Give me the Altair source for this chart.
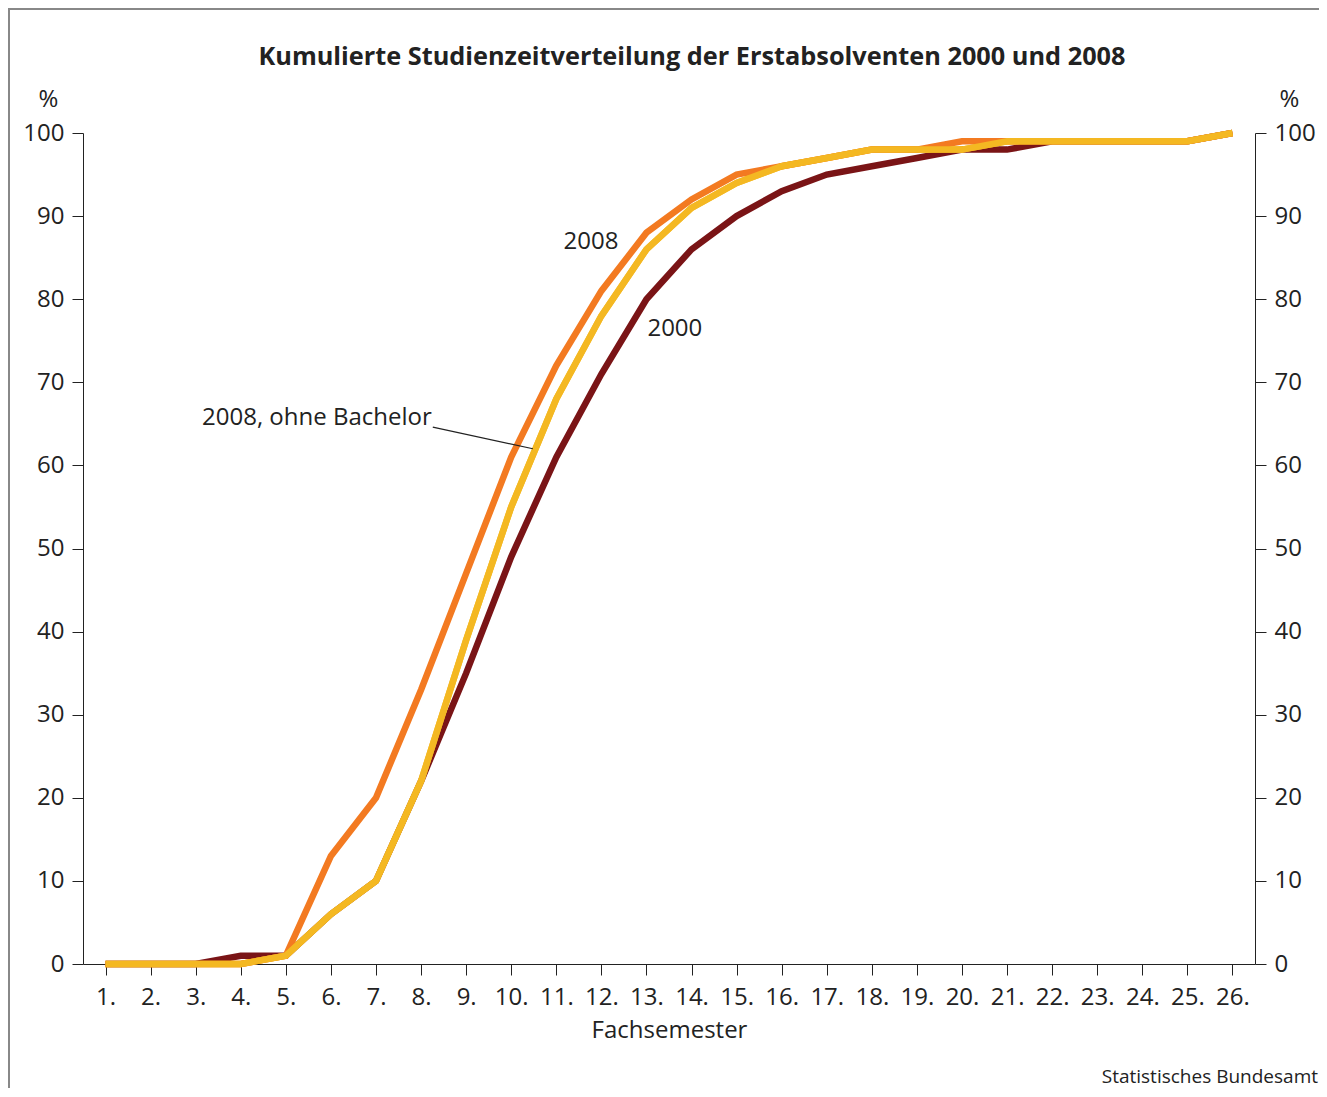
import altair as alt
import pandas as pd

semester = list(range(1, 27))
s2000 = [0, 0, 0, 1, 1, 6, 10, 22, 35, 49, 61, 71, 80, 86, 90, 93, 95, 96, 97, 98, 98, 99, 99, 99, 99, 100]
s2008 = [0, 0, 0, 0, 1, 13, 20, 33, 47, 61, 72, 81, 88, 92, 95, 96, 97, 98, 98, 99, 99, 99, 99, 99, 99, 100]
s2008_ob = [0, 0, 0, 0, 1, 6, 10, 22, 39, 55, 68, 78, 86, 91, 94, 96, 97, 98, 98, 98, 99, 99, 99, 99, 99, 100]

title_text = "Kumulierte Studienzeitverteilung der Erstabsolventen 2000 und 2008"
source_text = "Statistisches Bundesamt"
label_texts = ["2008", "2000", "2008, ohne Bachelor"]
label_x = [11.77, 13.63, 3.14]
label_y = [86.9, 76.4, 65.7]
label_align = ["center", "center", "left"]
leader = {"x": [8.26], "y": [64.6], "x2": [10.48], "y2": [62.0]}

FONT = "Open Sans"
W, H = 1172, 831

xscale = alt.Scale(domain=[0.5, 26.5], nice=False, zero=False)
yscale = alt.Scale(domain=[0, 100], nice=False)

x_axis = alt.Axis(values=semester, labelExpr="datum.value + '.'", title="Fachsemester",
                  grid=False, tickSize=11, tickColor="#222", domainColor="#222",
                  labelFontSize=24, labelFont=FONT, labelColor="#222", labelPadding=10,
                  titleFontSize=24, titleFont=FONT, titleFontWeight="normal", titleColor="#222",
                  titlePadding=9, labelFlush=False)

def X(field):
    return alt.X(field, scale=xscale, axis=x_axis)

def y_axis(orient):
    return alt.Axis(orient=orient, values=list(range(0, 101, 10)), grid=False, tickSize=11,
                    tickColor="#222", domainColor="#222", labelFontSize=24, labelFont=FONT,
                    labelColor="#222", labelPadding=8, title="%", titleAngle=0,
                    titleFontSize=24, titleFont=FONT, titleFontWeight="normal", titleColor="#222",
                    titleAlign="center", titleBaseline="middle",
                    titleX=-35 if orient == "left" else 34, titleY=-34)

def series_layer(vals, color, axis):
    df = pd.DataFrame({"Fachsemester": semester, "Anteil": vals})
    return alt.Chart(df).mark_line(color=color, strokeWidth=6.5, strokeJoin="miter", clip=False).encode(
        x=X("Fachsemester:Q"),
        y=alt.Y("Anteil:Q", scale=yscale, axis=axis),
    )

l2000 = series_layer(s2000, "#7A1416", y_axis("left"))
l2008 = series_layer(s2008, "#F37A21", None)
lob_axis = series_layer(s2008_ob, "#F4B822", y_axis("right"))
lob = series_layer(s2008_ob, "#F4B822", None)

lab_df = pd.DataFrame({"t": label_texts, "x": label_x, "y": label_y, "a": label_align})
labels_c = alt.Chart(lab_df[lab_df.a == "center"]).mark_text(
    font=FONT, fontSize=24, color="#222", align="center", baseline="middle").encode(
    x=X("x:Q"), y=alt.Y("y:Q", scale=yscale, axis=None), text="t:N")
labels_l = alt.Chart(lab_df[lab_df.a == "left"]).mark_text(
    font=FONT, fontSize=24, color="#222", align="left", baseline="middle").encode(
    x=X("x:Q"), y=alt.Y("y:Q", scale=yscale, axis=None), text="t:N")

leader_rule = alt.Chart(pd.DataFrame(leader)).mark_rule(color="#222", strokeWidth=1.2).encode(
    x=X("x:Q"), y=alt.Y("y:Q", scale=yscale, axis=None),
    x2="x2:Q", y2="y2:Q")

one = pd.DataFrame({"a": [0]})
frame_left = alt.Chart(one).mark_rule(color="#888", strokeWidth=2).encode(
    x=alt.value(-74), y=alt.value(-124), y2=alt.value(960))
frame_top = alt.Chart(one).mark_rule(color="#888", strokeWidth=2).encode(
    x=alt.value(-75), x2=alt.value(1240), y=alt.value(-124))
source = alt.Chart(pd.DataFrame({"t": [source_text]})).mark_text(
    font=FONT, fontSize=19, color="#222", align="right", baseline="alphabetic").encode(
    x=alt.value(1235), y=alt.value(950), text="t:N")
title = alt.Chart(pd.DataFrame({"t": [title_text]})).mark_text(
    font=FONT, fontSize=25.3, fontWeight="bold", color="#222", align="center", baseline="alphabetic").encode(
    x=alt.value(609), y=alt.value(-68), text="t:N")

chart = alt.layer(
    l2000, lob_axis, l2008, lob,
    leader_rule, labels_c, labels_l, frame_left, frame_top, source, title
).resolve_scale(y="shared").resolve_axis(y="independent").properties(
    width=W, height=H,
    autosize=alt.AutoSizeParams(type="none"),
    padding={"left": 75, "top": 125, "right": 64, "bottom": 124},
).configure(background="white", view=alt.ViewConfig(stroke=None))

chart.save("out.html", embed_options={"renderer": "svg", "actions": False})
